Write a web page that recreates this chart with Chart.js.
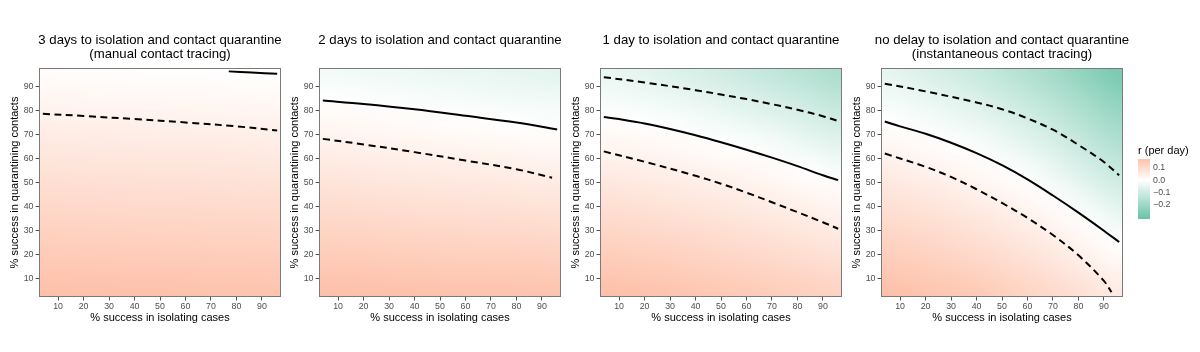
<!DOCTYPE html>
<html>

<head>
    <meta charset="utf-8">
    <title>Growth rate r by isolation and quarantine success</title>
    <script src="https://cdn.jsdelivr.net/npm/chart.js"></script>
    <style>
        body { margin: 0; background: #fff; }
        #wrap { position: relative; width: 1200px; height: 352px; }
        #wrap canvas { position: absolute; top: 0; }
    </style>
</head>

<body>
    <div id="wrap">
        <canvas id="p1" width="290" height="352" style="left:0px"></canvas>
        <canvas id="p2" width="290" height="352" style="left:280px"></canvas>
        <canvas id="p3" width="290" height="352" style="left:561px"></canvas>
        <canvas id="p4" width="358" height="352" style="left:842px"></canvas>
    </div>

    <script>
        // axes
        const xTicks = [10, 20, 30, 40, 50, 60, 70, 80, 90];
        const yTicks = [10, 20, 30, 40, 50, 60, 70, 80, 90];
        const axisMin = 2.5, axisMax = 97.5;

        // heatmap cell centres (rows listed from top y=95 to bottom y=5)
        const cellX = [5, 15, 25, 35, 45, 55, 65, 75, 85, 95];
        const cellY = [95, 85, 75, 65, 55, 45, 35, 25, 15, 5];

        // r (per day), one row per cellY
        const r3days = [
            [0.007, 0.006, 0.006, 0.005, 0.004, 0.004, 0.003, 0.002, 0.001, 0.000],
            [0.025, 0.024, 0.023, 0.022, 0.021, 0.020, 0.019, 0.018, 0.017, 0.016],
            [0.043, 0.042, 0.041, 0.040, 0.039, 0.038, 0.037, 0.036, 0.035, 0.034],
            [0.061, 0.060, 0.059, 0.058, 0.057, 0.056, 0.055, 0.054, 0.053, 0.052],
            [0.079, 0.078, 0.077, 0.076, 0.075, 0.074, 0.073, 0.072, 0.071, 0.070],
            [0.097, 0.096, 0.095, 0.094, 0.093, 0.092, 0.091, 0.090, 0.089, 0.088],
            [0.115, 0.114, 0.113, 0.112, 0.111, 0.110, 0.109, 0.108, 0.107, 0.106],
            [0.133, 0.132, 0.131, 0.130, 0.129, 0.128, 0.127, 0.126, 0.125, 0.124],
            [0.151, 0.150, 0.149, 0.148, 0.147, 0.146, 0.145, 0.144, 0.143, 0.142],
            [0.169, 0.168, 0.167, 0.166, 0.165, 0.164, 0.163, 0.162, 0.161, 0.160]
        ];
        const r2days = [
            [-0.024, -0.027, -0.030, -0.033, -0.036, -0.040, -0.043, -0.047, -0.051, -0.055],
            [-0.002, -0.005, -0.008, -0.011, -0.014, -0.017, -0.020, -0.024, -0.027, -0.031],
            [0.019, 0.017, 0.014, 0.011, 0.008, 0.006, 0.003, 0.000, -0.003, -0.007],
            [0.041, 0.038, 0.036, 0.033, 0.031, 0.028, 0.026, 0.023, 0.020, 0.017],
            [0.062, 0.060, 0.058, 0.055, 0.053, 0.051, 0.049, 0.046, 0.044, 0.041],
            [0.084, 0.082, 0.079, 0.077, 0.075, 0.073, 0.071, 0.069, 0.067, 0.065],
            [0.105, 0.103, 0.101, 0.099, 0.097, 0.095, 0.094, 0.092, 0.090, 0.089],
            [0.127, 0.125, 0.123, 0.121, 0.120, 0.118, 0.116, 0.115, 0.114, 0.112],
            [0.148, 0.147, 0.145, 0.143, 0.142, 0.140, 0.139, 0.138, 0.137, 0.136],
            [0.170, 0.168, 0.167, 0.165, 0.164, 0.163, 0.162, 0.161, 0.160, 0.160]
        ];
        const r1day = [
            [-0.043, -0.052, -0.062, -0.074, -0.087, -0.101, -0.116, -0.132, -0.150, -0.170],
            [-0.019, -0.025, -0.033, -0.043, -0.054, -0.067, -0.080, -0.095, -0.113, -0.131],
            [0.005, 0.001, -0.004, -0.012, -0.021, -0.032, -0.045, -0.059, -0.075, -0.093],
            [0.028, 0.025, 0.020, 0.014, 0.008, 0.001, -0.009, -0.022, -0.038, -0.054],
            [0.052, 0.048, 0.043, 0.038, 0.032, 0.025, 0.018, 0.010, 0.000, -0.015],
            [0.076, 0.072, 0.067, 0.061, 0.055, 0.049, 0.042, 0.034, 0.025, 0.016],
            [0.099, 0.095, 0.090, 0.085, 0.079, 0.073, 0.066, 0.059, 0.050, 0.042],
            [0.123, 0.119, 0.114, 0.109, 0.103, 0.096, 0.090, 0.083, 0.076, 0.068],
            [0.146, 0.142, 0.137, 0.132, 0.126, 0.120, 0.114, 0.108, 0.101, 0.094],
            [0.170, 0.166, 0.161, 0.156, 0.150, 0.144, 0.138, 0.132, 0.126, 0.120]
        ];
        const r0days = [
            [-0.050, -0.065, -0.082, -0.100, -0.120, -0.145, -0.170, -0.200, -0.235, -0.270],
            [-0.025, -0.037, -0.052, -0.068, -0.086, -0.110, -0.134, -0.164, -0.197, -0.231],
            [0.000, -0.010, -0.021, -0.035, -0.052, -0.074, -0.098, -0.127, -0.160, -0.192],
            [0.024, 0.016, 0.007, -0.003, -0.019, -0.039, -0.063, -0.091, -0.122, -0.153],
            [0.049, 0.040, 0.032, 0.022, 0.011, -0.004, -0.027, -0.055, -0.085, -0.115],
            [0.073, 0.065, 0.057, 0.047, 0.036, 0.022, 0.006, -0.018, -0.047, -0.076],
            [0.097, 0.089, 0.081, 0.072, 0.061, 0.047, 0.032, 0.013, -0.009, -0.037],
            [0.121, 0.114, 0.106, 0.096, 0.086, 0.072, 0.057, 0.039, 0.020, 0.001],
            [0.146, 0.138, 0.130, 0.121, 0.110, 0.097, 0.083, 0.066, 0.046, 0.028],
            [0.170, 0.163, 0.155, 0.146, 0.135, 0.122, 0.108, 0.092, 0.073, 0.055]
        ];

        // contour lines (solid = r of 0, dashed = its bounds)
        const p1SolidX = [77, 86, 96];
        const p1SolidY = [96.1, 95.6, 95.1];
        const p1DashX = [4, 20, 40, 60, 80, 96];
        const p1DashY = [78.5, 77.6, 76.3, 74.9, 73.3, 71.6];

        const p2SolidX = [4, 20, 40, 60, 80, 96];
        const p2SolidY = [84.0, 82.6, 80.4, 77.7, 74.9, 72.0];
        const p2DashX = [4, 20, 40, 60, 80, 94];
        const p2DashY = [68.1, 65.8, 62.6, 59.1, 55.5, 52.0];

        const p3SolidX = [4, 10, 20, 30, 40, 50, 60, 70, 80, 90, 96];
        const p3SolidY = [77.2, 76.3, 74.5, 72.2, 69.6, 66.7, 63.6, 60.3, 56.8, 53.0, 51.0];
        const p3UpperX = [4, 20, 40, 50, 60, 70, 80, 90, 96];
        const p3UpperY = [93.7, 91.5, 88.3, 86.5, 84.6, 82.5, 80.2, 77.5, 75.5];
        const p3LowerX = [4, 20, 40, 50, 60, 70, 80, 90, 96];
        const p3LowerY = [62.9, 58.6, 52.8, 49.5, 45.8, 41.8, 37.7, 33.5, 30.8];

        const p4SolidX = [4, 10, 20, 30, 40, 50, 60, 70, 80, 90, 96];
        const p4SolidY = [75.3, 73.3, 70.2, 66.5, 62.2, 57.2, 51.3, 44.6, 37.5, 30.0, 25.3];
        const p4UpperX = [4, 20, 40, 50, 60, 70, 80, 90, 96];
        const p4UpperY = [91.0, 87.8, 83.2, 80.4, 76.6, 71.9, 65.6, 58.5, 53.0];
        const p4LowerX = [4, 20, 30, 40, 50, 60, 70, 80, 90, 93];
        const p4LowerY = [62.0, 56.5, 52.3, 47.2, 41.5, 35.3, 28.2, 19.8, 9.2, 4.5];

        // colour legend
        const legendTicks = [0.1, 0.0, -0.1, -0.2];
        const legendLabels = ['0.1', '0.0', '\u22120.1', '\u22120.2'];
        const legendMin = -0.313, legendMax = 0.17;

        const FONT = '"Liberation Sans", Arial, Helvetica, sans-serif';
        const lowColor = [102, 194, 165], highColor = [252, 141, 98];

        function rColor(v) {
            const lim = Math.max(-legendMin, legendMax);
            const t = Math.min(1, Math.abs(v) / lim);
            const c = v >= 0 ? highColor : lowColor;
            return c.map(k => Math.round(255 + (k - 255) * t));
        }

        function heatPlugin(rows) {
            return {
                id: 'heat',
                beforeDatasetsDraw(chart) {
                    const nx = cellX.length, ny = cellY.length;
                    const off = document.createElement('canvas');
                    off.width = nx; off.height = ny;
                    const octx = off.getContext('2d');
                    const img = octx.createImageData(nx, ny);
                    rows.forEach((row, j) => row.forEach((v, i) => {
                        const c = rColor(v), k = (j * nx + i) * 4;
                        img.data[k] = c[0]; img.data[k + 1] = c[1]; img.data[k + 2] = c[2]; img.data[k + 3] = 255;
                    }));
                    octx.putImageData(img, 0, 0);

                    const { ctx, chartArea: a, scales: { x, y } } = chart;
                    const half = (cellX[1] - cellX[0]) / 2;
                    const x0 = x.getPixelForValue(cellX[0] - half), x1 = x.getPixelForValue(cellX[nx - 1] + half);
                    const y0 = y.getPixelForValue(cellY[0] + half), y1 = y.getPixelForValue(cellY[ny - 1] - half);
                    ctx.save();
                    ctx.beginPath();
                    ctx.rect(a.left, a.top, a.width, a.height);
                    ctx.clip();
                    ctx.imageSmoothingEnabled = true;
                    ctx.imageSmoothingQuality = 'high';
                    ctx.drawImage(off, x0, y0, x1 - x0, y1 - y0);
                    ctx.restore();
                },
                afterDatasetsDraw(chart) {
                    const { ctx, chartArea: a } = chart;
                    ctx.save();
                    ctx.strokeStyle = '#7a7a7a';
                    ctx.lineWidth = 1;
                    ctx.strokeRect(a.left + 0.5, a.top + 0.5, a.width - 1, a.height - 1);
                    ctx.restore();
                }
            };
        }

        function titlePlugin(lines) {
            return {
                id: 'panelTitle',
                afterDraw(chart) {
                    const { ctx, chartArea: a } = chart;
                    ctx.save();
                    ctx.font = '13.2px ' + FONT;
                    ctx.fillStyle = '#000';
                    ctx.textAlign = 'center';
                    ctx.textBaseline = 'middle';
                    lines.forEach((t, i) => ctx.fillText(t, (a.left + a.right) / 2, 40.5 + i * 13.5));
                    ctx.restore();
                }
            };
        }

        const legendPlugin = {
            id: 'rLegend',
            afterDraw(chart) {
                const ctx = chart.ctx;
                const left = 296, top = 159, bottom = 219, w = 12;
                const yOf = v => top + (legendMax - v) / (legendMax - legendMin) * (bottom - top);
                ctx.save();
                const g = ctx.createLinearGradient(0, top, 0, bottom);
                for (let s = 0; s <= 20; s++) {
                    const v = legendMax - (legendMax - legendMin) * s / 20;
                    const c = rColor(v);
                    g.addColorStop(s / 20, `rgb(${c[0]},${c[1]},${c[2]})`);
                }
                ctx.fillStyle = g;
                ctx.fillRect(left, top, w, bottom - top);
                ctx.font = '11px ' + FONT;
                ctx.fillStyle = '#000';
                ctx.textBaseline = 'middle';
                ctx.fillText('r (per day)', left, 151);
                ctx.font = '8.8px ' + FONT;
                ctx.fillStyle = '#4d4d4d';
                legendTicks.forEach((v, i) => ctx.fillText(legendLabels[i], left + w + 3, yOf(v)));
                ctx.restore();
            }
        };

        function line(xs, ys, dashed) {
            return {
                data: xs.map((v, i) => ({ x: v, y: ys[i] })),
                borderColor: '#000',
                borderWidth: 2,
                borderDash: dashed ? [7, 4.5] : [],
                pointRadius: 0,
                tension: 0.35,
                fill: false
            };
        }

        function makePanel(id, title, rows, datasets, withLegend) {
            const tickFont = { family: FONT, size: 8.8 };
            const titleFont = { family: FONT, size: 11 };
            const extra = [heatPlugin(rows), titlePlugin(title)];
            if (withLegend) extra.push(legendPlugin);
            new Chart(document.getElementById(id), {
                type: 'line',
                data: { datasets: datasets },
                options: {
                    responsive: false,
                    animation: false,
                    events: [],
                    layout: { padding: { top: 68, left: 8.4, right: withLegend ? 77 : 9, bottom: 27.7 } },
                    plugins: { legend: { display: false }, tooltip: { enabled: false } },
                    scales: {
                        x: {
                            type: 'linear', min: axisMin, max: axisMax,
                            afterBuildTicks: s => { s.ticks = xTicks.map(v => ({ value: v })); },
                            afterFit: s => { s.height = 27.3; },
                            grid: { drawOnChartArea: false, tickLength: 3.5, tickColor: '#555' },
                            border: { display: false },
                            ticks: { font: tickFont, color: '#4d4d4d', padding: 1, maxRotation: 0 },
                            title: { display: true, text: '% success in isolating cases', font: titleFont, color: '#000', padding: 0 }
                        },
                        y: {
                            type: 'linear', min: axisMin, max: axisMax,
                            afterBuildTicks: s => { s.ticks = yTicks.map(v => ({ value: v })); },
                            afterFit: s => { s.width = 30.6; },
                            grid: { drawOnChartArea: false, tickLength: 3.5, tickColor: '#555' },
                            border: { display: false },
                            ticks: { font: tickFont, color: '#4d4d4d', padding: 2 },
                            title: { display: true, text: '% success in quarantining contacts', font: titleFont, color: '#000', padding: 0 }
                        }
                    }
                },
                plugins: extra
            });
        }

        makePanel('p1', ['3 days to isolation and contact quarantine', '(manual contact tracing)'], r3days,
            [line(p1SolidX, p1SolidY, false), line(p1DashX, p1DashY, true)], false);
        makePanel('p2', ['2 days to isolation and contact quarantine'], r2days,
            [line(p2SolidX, p2SolidY, false), line(p2DashX, p2DashY, true)], false);
        makePanel('p3', ['1 day to isolation and contact quarantine'], r1day,
            [line(p3SolidX, p3SolidY, false), line(p3UpperX, p3UpperY, true), line(p3LowerX, p3LowerY, true)], false);
        makePanel('p4', ['no delay to isolation and contact quarantine', '(instantaneous contact tracing)'], r0days,
            [line(p4SolidX, p4SolidY, false), line(p4UpperX, p4UpperY, true), line(p4LowerX, p4LowerY, true)], true);
    </script>
</body>

</html>
